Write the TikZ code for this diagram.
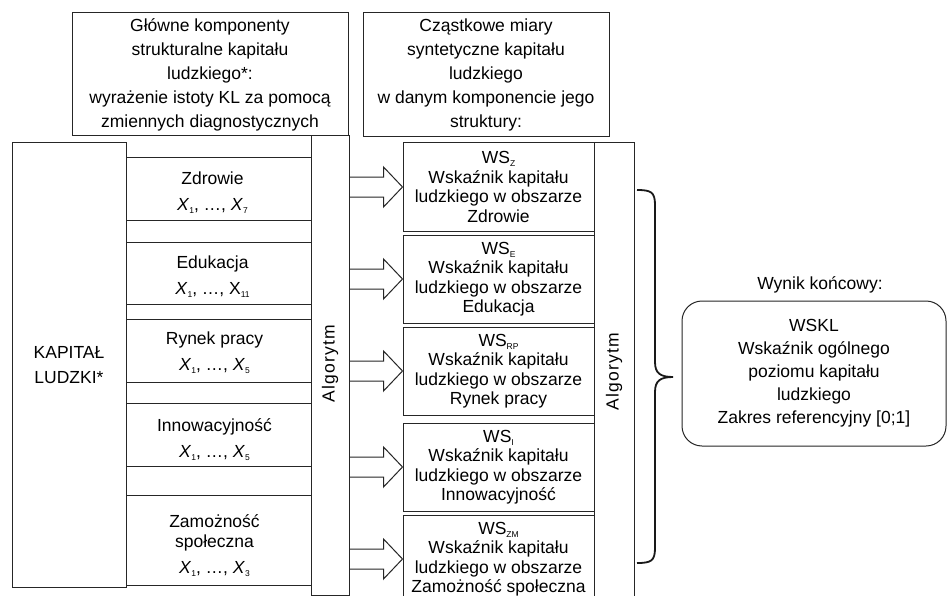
\documentclass[tikz,border=0pt]{standalone}
\usepackage{fontspec}
\setmainfont{Liberation Sans}
\usetikzlibrary{calc}
\newcommand\sbs[1]{\raisebox{-3pt}{\fontsize{8.5}{8.5}\selectfont #1}}
\newcommand\xv[1]{\textit{X}\sbs{#1}}
\newcommand\xu[1]{X\sbs{#1}}
\newcommand\barrow[2]{\draw[arrline] ($(#1.east |- #2.west)+(0,-10)$) -- ++(34,0) -- ++(0,-10) -- (#2.west) -- ++(-19,20) -- ++(0,-10) -- ++(-34,0);}
\tikzset{
  box/.style={draw=black!85, line width=1pt, inner sep=0pt, align=center, fill=white},
  rowbox/.style={box, minimum width=185},
  rowtext/.style={align=center, inner sep=0pt, font=\fontsize{17.5}{20}\selectfont},
  wsbox/.style={box, minimum width=191, minimum height=88, font=\fontsize{17.5}{19.5}\selectfont},
  algtext/.style={rotate=90, inner sep=0pt, font=\fontsize{17.5}{20}\selectfont\addfontfeature{LetterSpace=7}},
  arrline/.style={draw=black!85, line width=1pt, line join=miter},
  braceline/.style={draw=black!90, line width=1.8pt}
}
\begin{document}
\begin{tikzpicture}[x=1pt, y=-1pt, font=\fontsize{17.5}{20}\selectfont, text=black]
\clip (0,0) rectangle (949,596);
\fill[white] (0,0) rectangle (949,596);

% top headers
\node[box, minimum width=276, minimum height=123, font=\fontsize{17.5}{24}\selectfont] (topL) at (210,74.5)
  {Główne komponenty\\strukturalne kapitału\\ludzkiego*:\\wyrażenie istoty KL za pomocą\\zmiennych diagnostycznych};
\node[box, minimum width=246, minimum height=124, font=\fontsize{17.5}{24}\selectfont] (topR) at (486,75)
  {Cząstkowe miary\\syntetyczne kapitału\\ludzkiego\\w danym komponencie jego\\struktury:};

% left column
\node[box, minimum width=114, minimum height=444, font=\fontsize{17.5}{25}\selectfont] (kl) at (69,365) {KAPITAŁ\\LUDZKI*};

% algorithm 1
\node[box, minimum width=38, minimum height=459] (alg1) at (330,365.5) {};
\node[algtext] (alg1t) at (330,364) {Algorytm};

% component rows
\node[rowbox, minimum height=62] (rZ) at (218.5,189) {};
\node[rowtext] (tZ) at ($(rZ.center)+(-6,4)$) {Zdrowie\\[6pt]\xv{1}, …, \xv{7}};
\node[rowbox, minimum height=62] (rE) at (218.5,273) {};
\node[rowtext] (tE) at ($(rE.center)+(-6,4)$) {Edukacja\\[6pt]\xv{1}, …, \xu{11}};
\node[rowbox, minimum height=63] (rRP) at (218.5,350.5) {};
\node[rowtext] (tRP) at ($(rRP.center)+(-4,2)$) {Rynek pracy\\[6pt]\xv{1}, …, \xv{5}};
\node[rowbox, minimum height=63] (rI) at (218.5,434.5) {};
\node[rowtext] (tI) at ($(rI.center)+(-4,5)$) {Innowacyjność\\[6pt]\xv{1}, …, \xv{5}};
\node[rowbox, minimum height=90] (rZM) at (218.5,540) {};
\node[rowtext] (tZM) at ($(rZM.center)+(-4,6)$) {Zamożność\\społeczna\\[6pt]\xv{1}, …, \xv{3}};

% WS boxes
\node[wsbox] (wsZ) at (498.5,187) {WS\sbs{Z}\\Wskaźnik kapitału\\ludzkiego w obszarze\\Zdrowie};
\node[wsbox] (wsE) at (498.5,279) {WS\sbs{E}\\Wskaźnik kapitału\\ludzkiego w obszarze\\Edukacja};
\node[wsbox] (wsRP) at (498.5,371) {WS\sbs{RP}\\Wskaźnik kapitału\\ludzkiego w obszarze\\Rynek pracy};
\node[wsbox] (wsI) at (498.5,467) {WS\sbs{I}\\Wskaźnik kapitału\\ludzkiego w obszarze\\Innowacyjność};
\node[wsbox] (wsZM) at (498.5,559) {WS\sbs{ZM}\\Wskaźnik kapitału\\ludzkiego w obszarze\\Zamożność społeczna};

% block arrows
\barrow{alg1}{wsZ}
\barrow{alg1}{wsE}
\barrow{alg1}{wsRP}
\barrow{alg1}{wsI}
\barrow{alg1}{wsZM}

% algorithm 2
\node[box, minimum width=40, minimum height=459] (alg2) at (614,372.5) {};
\node[algtext] (alg2t) at (614,372) {Algorytm};

% brace
\coordinate (bt) at (637,190);
\coordinate (bm) at (673,377);
\coordinate (bb) at (637,563);
\draw[braceline] (bt) .. controls (651,190) and (655,192) .. (655,205) -- (655,362)
  .. controls (655,373) and (660,377) .. (bm)
  .. controls (660,377) and (655,381) .. (655,392) -- (655,548)
  .. controls (655,561) and (651,563) .. (bb);

% result
\node[inner sep=0pt] (wyn) at (820,285) {Wynik końcowy:};
\node[box, rounded corners=20, minimum width=264, minimum height=145, font=\fontsize{17.5}{23}\selectfont] (res) at (814,373.5)
  {WSKL\\Wskaźnik ogólnego\\poziomu kapitału\\ludzkiego\\Zakres referencyjny [0;1]};
\end{tikzpicture}
\end{document}
